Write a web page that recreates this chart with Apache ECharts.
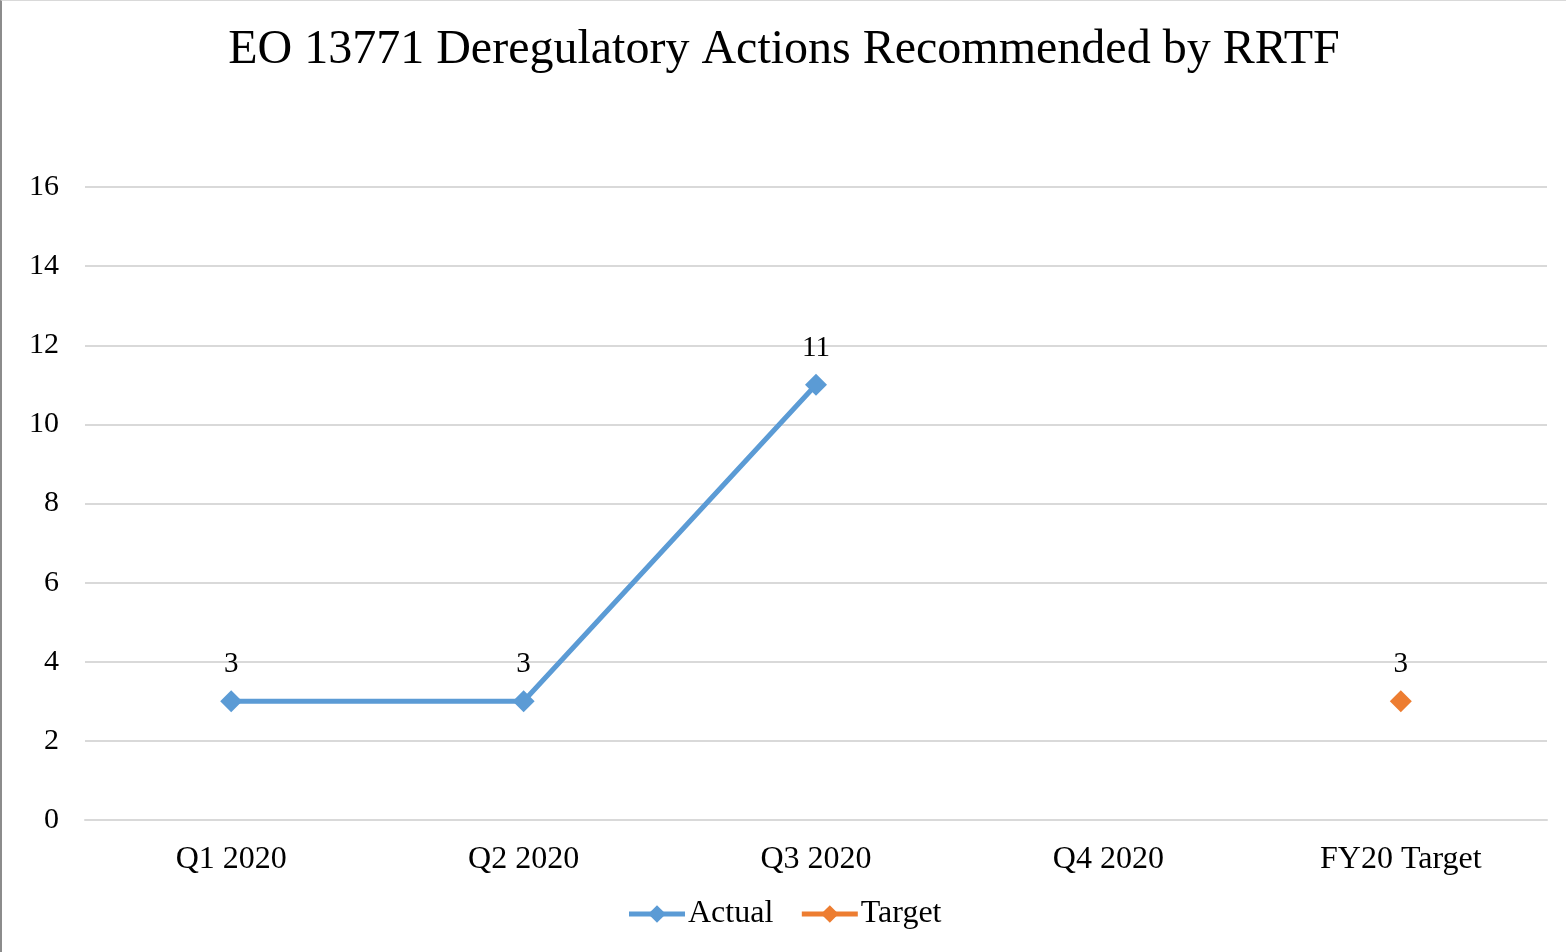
<!DOCTYPE html>
<html>
<head>
<meta charset="utf-8">
<script src="https://cdn.jsdelivr.net/npm/echarts@6/dist/echarts.min.js"></script>
<style>
	html, body { margin: 0; padding: 0; background: #fff; }
	#chart { width: 1566px; height: 952px; box-sizing: border-box; border-left: 2px solid #8c8c8c; border-top: 1px solid #d9d9d9; }
</style>
</head>
<body>
<div id="chart"></div>
<script>
"use strict";

var categories = ['Q1 2020', 'Q2 2020', 'Q3 2020', 'Q4 2020', 'FY20 Target'];
var actualValues = [3, 3, 11, null, null];
var targetValues = [null, null, null, null, 3];
var yTicks = { min: 0, max: 16, interval: 2 };

var fontFamily = '"Liberation Serif", "Times New Roman", serif';
var blue = '#5b9bd5';
var orange = '#ed7d31';

var myChart = echarts.init(document.getElementById('chart'));

var labelStyle = {
	show: true,
	position: 'top',
	distance: 11,
	fontFamily: fontFamily,
	fontSize: 29,
	color: '#000'
};

var option = {
	animation: false,
	title: {
		text: 'EO 13771 Deregulatory Actions Recommended by RRTF',
		left: 'center',
		top: 20,
		textStyle: { fontFamily: fontFamily, fontSize: 48, fontWeight: 'normal', color: '#000' }
	},
	legend: {
		bottom: 17,
		left: 'center',
		itemWidth: 56,
		itemHeight: 22,
		itemGap: 26,
		lineStyle: { width: 5 },
		textStyle: { fontFamily: fontFamily, fontSize: 32, color: '#000', padding: [0, 0, 0, -2] },
		data: ['Actual', 'Target']
	},
	grid: {
		left: 83,
		right: 19,
		top: 186,
		bottom: 132
	},
	xAxis: {
		type: 'category',
		data: categories,
		boundaryGap: true,
		axisLine: { show: true, lineStyle: { color: '#d9d9d9', width: 2 } },
		axisTick: { show: false },
		axisLabel: { fontFamily: fontFamily, fontSize: 32, color: '#000', margin: 24 }
	},
	yAxis: {
		type: 'value',
		min: yTicks.min,
		max: yTicks.max,
		interval: yTicks.interval,
		axisLine: { show: false },
		axisTick: { show: false },
		axisLabel: { fontFamily: fontFamily, fontSize: 30, color: '#000', margin: 26 },
		splitLine: { lineStyle: { color: '#d9d9d9', width: 2 } }
	},
	series: [{
			name: 'Actual',
			type: 'line',
			data: actualValues,
			color: blue,
			symbol: 'diamond',
			symbolSize: 22,
			showAllSymbol: true,
			lineStyle: { width: 5, color: blue },
			itemStyle: { color: blue },
			label: labelStyle
		}, {
			name: 'Target',
			type: 'line',
			data: targetValues,
			color: orange,
			symbol: 'diamond',
			symbolSize: 22,
			lineStyle: { width: 5, color: orange },
			itemStyle: { color: orange },
			label: labelStyle
		}
	]
};

myChart.setOption(option);
</script>
</body>
</html>
